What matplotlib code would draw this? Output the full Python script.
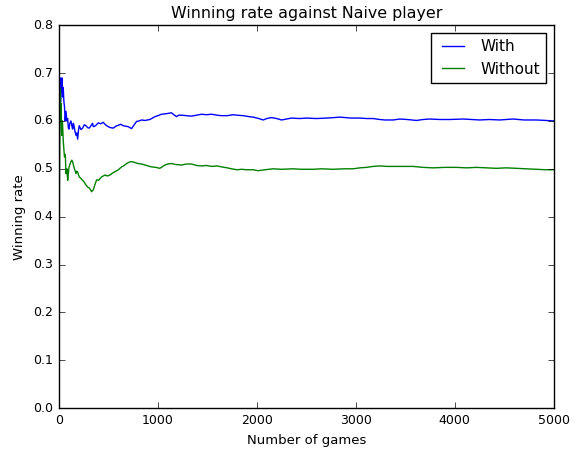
import matplotlib
matplotlib.use("Agg")
import matplotlib.pyplot as plt

# running winning rate vs. games played, for the two agent variants
games_with = [1, 5, 8, 12, 16, 20, 25, 30, 36, 43, 50, 56, 63, 71, 80, 88, 95, 101,
              110, 121, 130, 138, 145, 152, 162, 172, 180, 189, 197, 205, 222, 239,
              256, 273, 290, 306, 323, 340, 347, 370, 397, 420, 448, 470, 498, 520,
              549, 575, 599, 625, 650, 675, 700, 734, 760, 785, 810, 835, 870, 919,
              970, 1000, 1037, 1080, 1138, 1160, 1189, 1210, 1239, 1290, 1340, 1390,
              1441, 1490, 1542, 1600, 1643, 1700, 1761, 1800, 1862, 1920, 1963, 2020,
              2064, 2100, 2148, 2200, 2249, 2300, 2350, 2430, 2502, 2600, 2704, 2780,
              2838, 2950, 3040, 3110, 3175, 3242, 3293, 3377, 3444, 3520, 3613, 3680,
              3747, 3850, 3950, 4084, 4170, 4252, 4350, 4454, 4520, 4589, 4700, 4825,
              4920, 5000]
rate_with = [0.5, 0.6, 0.625, 0.69, 0.64, 0.68, 0.66, 0.69, 0.65, 0.67, 0.64, 0.63,
             0.6, 0.62, 0.6, 0.605, 0.585, 0.583, 0.595, 0.6, 0.59, 0.583, 0.595, 0.59,
             0.578, 0.57, 0.575, 0.562, 0.58, 0.59, 0.582, 0.585, 0.592, 0.59, 0.586,
             0.585, 0.59, 0.595, 0.588, 0.59, 0.596, 0.594, 0.597, 0.592, 0.588, 0.586,
             0.585, 0.589, 0.591, 0.593, 0.59, 0.589, 0.588, 0.584, 0.592, 0.599, 0.6,
             0.602, 0.601, 0.603, 0.609, 0.611, 0.614, 0.615, 0.617, 0.613, 0.609,
             0.612, 0.612, 0.611, 0.61, 0.612, 0.614, 0.613, 0.614, 0.612, 0.611,
             0.611, 0.613, 0.612, 0.611, 0.609, 0.608, 0.605, 0.602, 0.605, 0.607,
             0.605, 0.602, 0.604, 0.606, 0.605, 0.606, 0.605, 0.606, 0.607, 0.608,
             0.606, 0.606, 0.605, 0.605, 0.603, 0.602, 0.602, 0.604, 0.603, 0.601,
             0.603, 0.604, 0.603, 0.603, 0.604, 0.603, 0.602, 0.603, 0.602, 0.603,
             0.604, 0.602, 0.602, 0.601, 0.600]

games_without = [3, 6, 10, 14, 18, 22, 28, 35, 43, 50, 56, 64, 71, 80, 88, 95, 101,
                 112, 121, 130, 138, 152, 165, 172, 180, 189, 205, 222, 239, 256, 273,
                 290, 306, 323, 330, 340, 347, 365, 381, 400, 431, 465, 490, 515, 540,
                 566, 600, 633, 660, 684, 710, 734, 770, 801, 835, 869, 900, 936, 980,
                 1020, 1071, 1100, 1138, 1180, 1239, 1290, 1340, 1390, 1441, 1490, 1542,
                 1600, 1643, 1700, 1744, 1800, 1845, 1900, 1963, 2013, 2080, 2165, 2250,
                 2366, 2450, 2569, 2650, 2771, 2880, 2973, 3040, 3108, 3175, 3242, 3320,
                 3444, 3579, 3680, 3781, 3900, 4017, 4120, 4219, 4320, 4421, 4520, 4623,
                 4720, 4825, 4920, 5000]
rate_without = [0.333, 0.5, 0.6, 0.667, 0.62, 0.636, 0.57, 0.6, 0.56, 0.54, 0.525,
                0.53, 0.49, 0.5, 0.476, 0.49, 0.503, 0.51, 0.515, 0.518, 0.515, 0.503,
                0.495, 0.49, 0.495, 0.493, 0.483, 0.48, 0.476, 0.472, 0.466, 0.462,
                0.46, 0.455, 0.452, 0.455, 0.456, 0.468, 0.477, 0.476, 0.483, 0.487,
                0.485, 0.487, 0.491, 0.494, 0.498, 0.504, 0.507, 0.511, 0.514, 0.515,
                0.513, 0.511, 0.51, 0.508, 0.506, 0.504, 0.503, 0.501, 0.508, 0.51,
                0.511, 0.509, 0.508, 0.51, 0.51, 0.507, 0.506, 0.507, 0.505, 0.506,
                0.504, 0.502, 0.5, 0.498, 0.499, 0.498, 0.498, 0.496, 0.498, 0.5, 0.499,
                0.5, 0.499, 0.499, 0.5, 0.499, 0.5, 0.5, 0.502, 0.503, 0.505, 0.506,
                0.505, 0.505, 0.505, 0.503, 0.502, 0.503, 0.503, 0.502, 0.503, 0.502,
                0.501, 0.502, 0.501, 0.5, 0.499, 0.498, 0.498]

plt.style.use("classic")
fig = plt.figure(figsize=(5.78, 4.5), dpi=100, facecolor="white")
ax = fig.add_axes([0.102, 0.093, 0.856, 0.851])

ax.plot(games_with, rate_with, color="b", lw=1.0, label="With")
ax.plot(games_without, rate_without, color="g", lw=1.0, label="Without")

ax.set_xlim(0, 5000)
ax.set_ylim(0.0, 0.8)
ax.set_xticks([0, 1000, 2000, 3000, 4000, 5000])
ax.set_yticks([0.0, 0.1, 0.2, 0.3, 0.4, 0.5, 0.6, 0.7, 0.8])
ax.tick_params(labelsize=9)
ax.set_title("Winning rate against Naive player", fontsize=11.4)
ax.set_xlabel("Number of games", fontsize=9.5)
ax.set_ylabel("Winning rate", fontsize=9.5)
ax.legend(loc="upper right", fontsize=11)

fig.savefig("out.png", dpi=100, facecolor="white")
